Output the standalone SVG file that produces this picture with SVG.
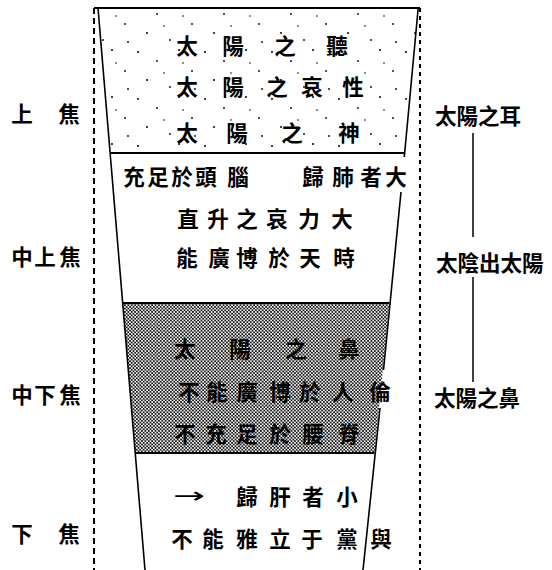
<svg xmlns="http://www.w3.org/2000/svg" width="552" height="570" viewBox="0 0 552 570">
<style>
.t{font-family:"Noto Sans CJK TC","Noto Sans CJK SC",sans-serif;font-size:21.5px;font-weight:700;fill:#000;text-anchor:middle;dominant-baseline:central}
.r{font-family:"Noto Sans CJK TC","Noto Sans CJK SC",sans-serif;font-size:21.5px;font-weight:700;fill:#000;dominant-baseline:central}
.edge{stroke:#000;stroke-width:1.6;fill:none}
.hl{stroke:#000;stroke-width:2;fill:none}
</style>
<defs>
<pattern id="sparse" width="67" height="47" patternUnits="userSpaceOnUse">
<circle cx="4" cy="5" r="1" fill="#000"/>
<circle cx="23" cy="14" r="0.9" fill="#000"/>
<circle cx="45" cy="3" r="1" fill="#000"/>
<circle cx="58" cy="24" r="0.9" fill="#000"/>
<circle cx="13" cy="33" r="1" fill="#000"/>
<circle cx="36" cy="40" r="0.9" fill="#000"/>
<circle cx="49" cy="16" r="0.8" fill="#000"/>
<circle cx="30" cy="26" r="0.8" fill="#000"/>
<circle cx="61" cy="42" r="0.9" fill="#000"/>
</pattern>
<pattern id="checker" width="3.4" height="3.4" patternUnits="userSpaceOnUse">
<rect width="3.4" height="3.4" fill="#fff"/>
<circle cx="0.85" cy="0.85" r="1" fill="#111"/>
<circle cx="2.55" cy="2.55" r="1" fill="#111"/>
</pattern>
</defs>
<rect width="552" height="570" fill="#fff"/>
<g id="regions">
<polygon id="upper-fill" points="98,8 418,8 404,153 110,153" fill="url(#sparse)"/>
<polygon id="middle-lower-fill" points="122.6,303 389.3,303 374.6,453 135.2,453" fill="url(#checker)"/>
</g>
<g id="connectors">
<line x1="94" y1="8" x2="94" y2="570" stroke="#000" stroke-width="2" stroke-dasharray="6 4"/>
<line x1="420" y1="8" x2="420" y2="570" stroke="#000" stroke-width="2" stroke-dasharray="4 4"/>
<line class="hl" x1="94" y1="8" x2="420" y2="8"/>
<line class="edge" x1="98" y1="8" x2="145" y2="570"/>
<polyline class="edge" points="418.2,8 404.3,157"/>
<line class="edge" x1="401" y1="192" x2="383.5" y2="370"/>
<line class="edge" x1="380" y1="408" x2="363" y2="570"/>
<line class="hl" x1="110" y1="153" x2="404.5" y2="153"/>
<line class="hl" x1="122.6" y1="303" x2="389.3" y2="303"/>
<line class="hl" x1="135.2" y1="453" x2="374.6" y2="453"/>
<line stroke="#000" stroke-width="1.5" x1="473" y1="133" x2="473" y2="237"/>
<line stroke="#000" stroke-width="1.5" x1="473" y1="277" x2="473" y2="382"/>
</g>
<g id="upper">
<text class="t" x="187 233 285 337" y="44">太陽之聽</text>
<text class="t" x="187 233 277 312 353" y="85">太陽之哀性</text>
<text class="t" x="187 237 292 349" y="131">太陽之神</text>
</g>
<g id="middle-upper">
<text class="t" x="134 158 182 206 238" y="175">充足於頭腦</text>
<text class="t" x="313 343 371 396" y="175">歸肺者大</text>
<text class="t" x="188 218 247 277 309 342" y="217">直升之哀力大</text>
<text class="t" x="187 219 247 279 310 344" y="256">能廣博於天時</text>
</g>
<g id="middle-lower">
<text class="t" x="185 240 296 349" y="347">太陽之鼻</text>
<text class="t" x="189 217 247 280 310 343 380" y="390">不能廣博於人倫</text>
<text class="t" x="185 216 247 280 313 349" y="432">不充足於腰脊</text>
</g>
<g id="lower">
<text class="t" x="189" y="495" textLength="32" lengthAdjust="spacingAndGlyphs" style="font-family:'DejaVu Sans',sans-serif;font-weight:400">→</text>
<text class="t" x="247 280 313 347" y="495">歸肝者小</text>
<text class="t" x="182 213 247 280 312 347 381" y="537">不能雅立于黨與</text>
</g>
<g id="left-labels">
<text class="t" x="22 69" y="112">上焦</text>
<text class="t" x="22 45 70" y="255">中上焦</text>
<text class="t" x="22 45 70" y="393">中下焦</text>
<text class="t" x="22 69" y="532">下焦</text>
</g>
<g id="right-labels">
<text class="r" x="435" y="114">太陽之耳</text>
<text class="r" x="436" y="261">太陰出太陽</text>
<text class="r" x="434" y="396">太陽之鼻</text>
</g>
</svg>
